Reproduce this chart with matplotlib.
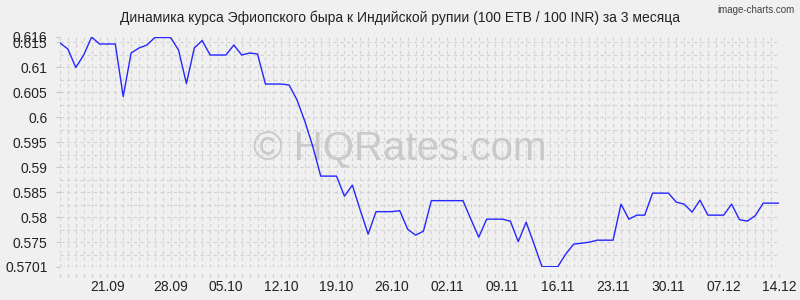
import matplotlib
matplotlib.use("Agg")
import matplotlib.pyplot as plt
import numpy as np

plt.rcParams['font.family'] = ['Liberation Sans', 'DejaVu Sans']

title = "Динамика курса Эфиопского быра к Индийской рупии (100 ETB / 100 INR) за 3 месяца"

# daily rate values (92 days, 14.09 .. 14.12)
rates = [
    0.6148, 0.6136, 0.6099, 0.6124, 0.6160, 0.6146, 0.6146, 0.6146, 0.6041, 0.6128,
    0.6138, 0.6144, 0.6159, 0.6159, 0.6159, 0.6134, 0.6067, 0.6138, 0.6153, 0.6124,
    0.6124, 0.6124, 0.6144, 0.6124, 0.6128, 0.6126, 0.6066, 0.6066, 0.6066, 0.6064,
    0.6034, 0.5991, 0.5941, 0.5882, 0.5882, 0.5882, 0.5842, 0.5864, 0.5814, 0.5766,
    0.5811, 0.5811, 0.5811, 0.5813, 0.5776, 0.5764, 0.5772, 0.5833, 0.5833, 0.5833,
    0.5833, 0.5833, 0.5796, 0.5760, 0.5796, 0.5796, 0.5796, 0.5792, 0.5751, 0.5790,
    0.5746, 0.5701, 0.5701, 0.5701, 0.5726, 0.5746, 0.5748, 0.5750, 0.5754, 0.5754,
    0.5754, 0.5826, 0.5796, 0.5804, 0.5804, 0.5848, 0.5848, 0.5848, 0.5830, 0.5826,
    0.5810, 0.5834, 0.5804, 0.5804, 0.5804, 0.5826, 0.5795, 0.5792, 0.5803, 0.5828,
    0.5828, 0.5828,
]

x_tick_pos = [6, 14, 21, 28, 35, 42, 49, 56, 63, 70, 77, 84, 91]
x_tick_labels = ["21.09", "28.09", "05.10", "12.10", "19.10", "26.10", "02.11",
                 "09.11", "16.11", "23.11", "30.11", "07.12", "14.12"]

y_ticks = [0.5701, 0.575, 0.58, 0.585, 0.59, 0.595, 0.6, 0.605, 0.61, 0.615, 0.616]
y_tick_labels = ["0.5701", "0.575", "0.58", "0.585", "0.59", "0.595", "0.6",
                 "0.605", "0.61", "0.615", "0.616"]

bg = "#f0f0f0"
fig = plt.figure(figsize=(8, 3), dpi=100, facecolor=bg)
ax = fig.add_axes([60/800, 1-266.7/300, (779-60)/800, (266.7-37)/300])
ax.set_facecolor(bg)

n = len(rates)
xs = np.arange(n)
ymin, ymax = 0.5701, 0.616

# grid
gcol = "#d2d2d2"
for xi in xs:
    ax.axvline(xi, color=gcol, lw=0.8, ls=(0, (3, 3)), zorder=1)
for yv in np.arange(0.5725, ymax + 1e-9, 0.0025):
    ax.axhline(yv, color=gcol, lw=0.8, ls=(0, (3, 3)), zorder=1)
ax.axhline(ymin, color="#c0c0c0", lw=0.9, zorder=1.5)

# watermark
ax.text(0.5, 1 - 149/300, "© HQRates.com", transform=fig.transFigure, ha="center", va="center",
        fontsize=29, color="#c4c4c4", alpha=0.85, zorder=2)

ax.plot(xs, rates, color="#2626ff", lw=1.0, zorder=3)

ax.set_xlim(0, n - 1)
ax.set_ylim(ymin, ymax)

for s in ax.spines.values():
    s.set_visible(False)
ax.spines['bottom'].set_position(('outward', 5))

ax.set_xticks(x_tick_pos)
ax.set_xticklabels(x_tick_labels)
ax.set_xticks(xs, minor=True)
ax.tick_params(axis='x', which='both', length=2.5, width=0.8, color="#c8c8c8",
               pad=2, labelsize=10, labelcolor="#222222")

ax.set_yticks(y_ticks)
ax.set_yticklabels(y_tick_labels)
ax.tick_params(axis='y', which='both', length=3, width=0.8, color="#c8c8c8",
               pad=6, labelsize=10, labelcolor="#222222")

fig.text(0.5, 1 - 18/300, title, ha="center", va="center", fontsize=10, color="#222222")
fig.text(795/800, 1 - 10/300, "image-charts.com", ha="right", va="center",
         fontsize=7, color="#444444")

fig.savefig("out.png", dpi=100, facecolor=bg)
